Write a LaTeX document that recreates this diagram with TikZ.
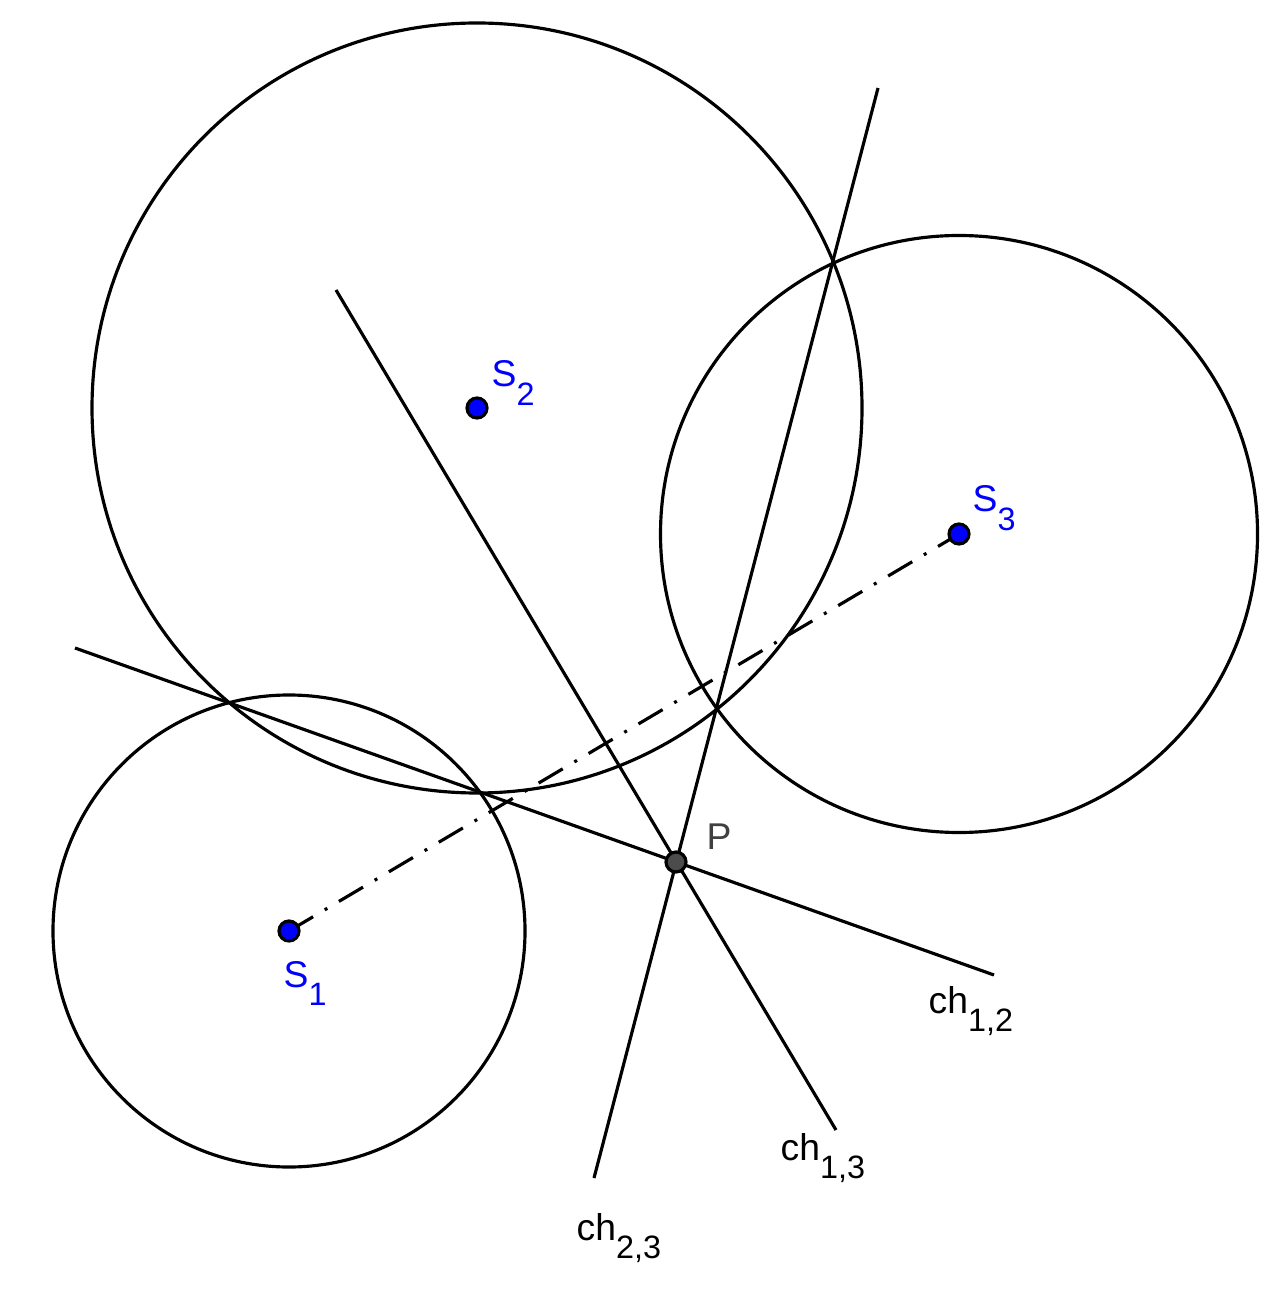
\documentclass[tikz,border=0pt]{standalone}
\usepackage{fontspec}
\setmainfont{Liberation Sans}
\newcommand\mysub[1]{\raisebox{-0.18cm}{\fontsize{9.2}{11}\selectfont #1}}
\begin{document}
\begin{tikzpicture}[x=0.01cm,y=-0.01cm,
  geo/.style={line width=0.9pt, black},
  dashdot/.style={line width=0.9pt, dash pattern=on 0.28cm off 0.135cm on 0.03cm off 0.135cm},
  pt/.style={circle, draw=black, line width=0.9pt, fill=blue, minimum size=0.2cm, inner sep=0pt},
  ptP/.style={circle, draw=black, line width=0.9pt, fill=black!70, minimum size=0.2cm, inner sep=0pt},
  lbl/.style={anchor=base west, inner sep=0pt, font=\fontsize{10.6}{12}\selectfont},
  bluelbl/.style={lbl, text=blue},
]
\useasboundingbox (0,0) rectangle (1284,1304);
\fill[white] (0,0) rectangle (1284,1304);

% circles
\draw[geo] (289,931) circle[radius=236];
\draw[geo] (477,408) circle[radius=385];
\draw[geo] (959,534) circle[radius=298.5];

% line endpoints
\coordinate (a12) at (75,648);
\coordinate (b12) at (994,975);
\coordinate (a13) at (336,290);
\coordinate (b13) at (836,1130);
\coordinate (a23) at (878,88);
\coordinate (b23) at (594,1178);

\draw[geo] (a12) -- (b12);
\draw[geo] (a13) -- (b13);
\draw[geo] (a23) -- (b23);

% centres
\coordinate (c1) at (289,931);
\coordinate (c3) at (959,534);
\draw[dashdot] (c1) -- (c3);

\node[pt] (S1) at (c1) {};
\node[pt] (S2) at (477,408) {};
\node[pt] (S3) at (c3) {};
\node[ptP] (P) at (676,862) {};

% labels
\node[bluelbl] (lS1) at (283,987) {S\mysub{1}};
\node[bluelbl] (lS2) at (491,387) {S\mysub{2}};
\node[bluelbl] (lS3) at (972,512) {S\mysub{3}};
\node[lbl, text=black!75] (lP) at (706,849) {P};
\node[lbl] (l12) at (928,1013) {ch\mysub{1,2}};
\node[lbl] (l13) at (780,1160) {ch\mysub{1,3}};
\node[lbl] (l23) at (576,1240) {ch\mysub{2,3}};
\end{tikzpicture}
\end{document}
